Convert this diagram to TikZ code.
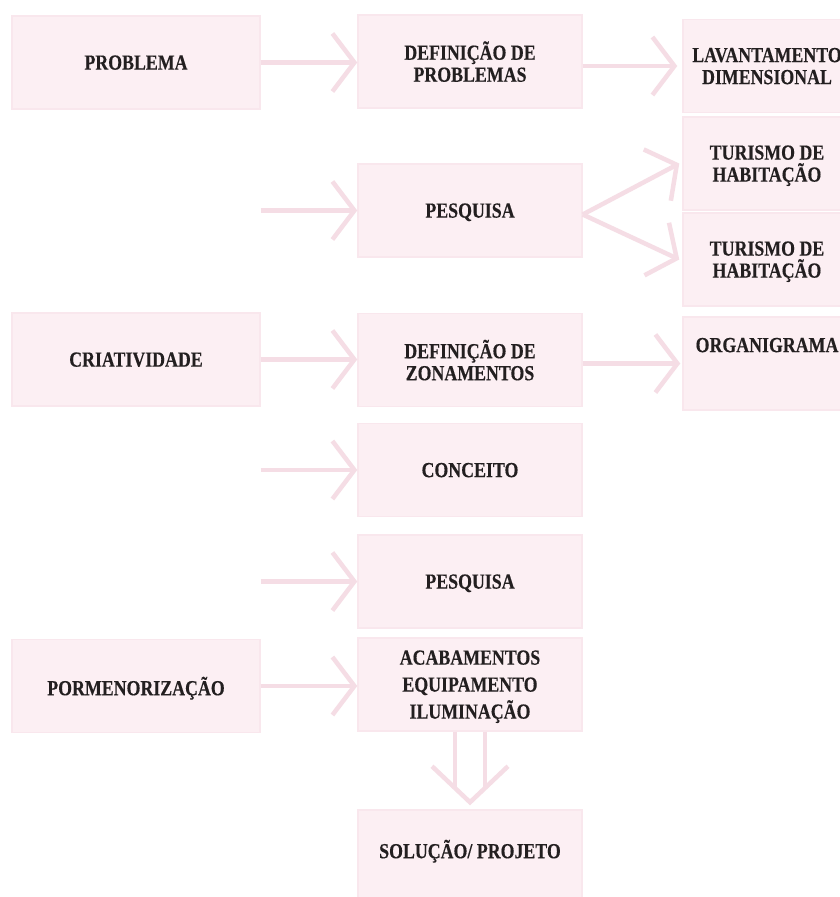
\documentclass[tikz,border=0pt]{standalone}
\usepackage{fontspec}
\setmainfont{Liberation Serif}[FakeStretch=0.83, BoldFeatures={FakeBold=0.3}]
\usetikzlibrary{arrows.meta}
\definecolor{boxfill}{RGB}{252,239,243}
\definecolor{boxline}{RGB}{249,231,237}
\definecolor{arrc}{RGB}{245,221,229}
\definecolor{txtc}{RGB}{35,31,32}
\newcommand\bfnt{\fontsize{21.5}{22}\selectfont\bfseries}
\begin{document}
\begin{tikzpicture}[x=1pt,y=-1pt,
  box/.style={draw=boxline, fill=boxfill, line width=1.5pt, minimum height=93pt, inner sep=0pt, align=center, text=txtc, font=\bfnt, text depth=0pt},
  wl/.style={box, minimum width=248pt},
  wm/.style={box, minimum width=224pt},
  wr/.style={box, minimum width=168pt},
  txt/.style={text=txtc, font=\bfnt, align=center, inner sep=0pt, text depth=0pt},
  conn/.style={draw=arrc, line width=4.5pt},
  arr/.style={conn, -{Straight Barb[length=22pt,width=58pt]}}]
\useasboundingbox (0,0) rectangle (840,897);
\fill[white] (0,0) rectangle (840,897);
\clip (0,0) rectangle (840,897);
% boxes
\node[wl] (prob) at (136,62.5) {PROBLEMA};
\node[wm] (defp) at (470,61.5) {DEFINIÇÃO DE\\PROBLEMAS};
\node[wr] (lav) at (767,66) {LAVANTAMENTO\\DIMENSIONAL};
\node[wm] (pes1) at (470,210.5) {PESQUISA};
\node[wr] (tur1) at (767,163.5) {TURISMO DE\\HABITAÇÃO};
\node[wr] (tur2) at (767,259.5) {TURISMO DE\\HABITAÇÃO};
\node[wl] (cri) at (136,359.5) {CRIATIVIDADE};
\node[wm] (defz) at (470,360) {DEFINIÇÃO DE\\ZONAMENTOS};
\node[wr] (org) at (767,363.5) {};
\node[txt] (orgt) at (767,345) {ORGANIGRAMA};
\node[wm] (conc) at (470,470) {CONCEITO};
\node[wm] (pes2) at (470,581.5) {PESQUISA};
\node[wl] (porm) at (136,686) {PORMENORIZAÇÃO};
\node[wm] (acab) at (470,684.5) {ACABAMENTOS\\[5pt]EQUIPAMENTO\\[5pt]ILUMINAÇÃO};
\node[wm] (sol) at (470,856.5) {};
\node[txt] (solt) at (470,849) {SOLUÇÃO/ PROJETO};
% connectors
\draw[arr] (prob.east) -- (prob.east -| defp.west);
\draw[arr] (defp.east |- lav.west) -- ([xshift=-5pt]lav.west);
\draw[arr] (pes1.west -| prob.east) -- (pes1.west);
\draw[arr] ([yshift=-4pt]pes1.east) -- ([xshift=-3pt]tur1.west);
\draw[arr] ([yshift=-4pt]pes1.east) -- ([xshift=-3pt]tur2.west);
\draw[arr] (cri.east) -- (cri.east -| defz.west);
\draw[arr] (defz.east |- org.west) -- ([xshift=-2pt]org.west);
\draw[arr] (conc.west -| prob.east) -- (conc.west);
\draw[arr] (pes2.west -| prob.east) -- (pes2.west);
\draw[arr] (porm.east) -- (porm.east -| acab.west);
% double arrow down
\coordinate (dtip) at ([yshift=7pt]sol.north);
\draw[conn] ([xshift=-15pt]acab.south) -- ([xshift=-15pt,yshift=14pt]dtip);
\draw[conn] ([xshift=15pt]acab.south) -- ([xshift=15pt,yshift=14pt]dtip);
\draw[conn, line join=miter] ([xshift=-38pt,yshift=36pt]dtip) -- (dtip) -- ([xshift=38pt,yshift=36pt]dtip);
\end{tikzpicture}
\end{document}
